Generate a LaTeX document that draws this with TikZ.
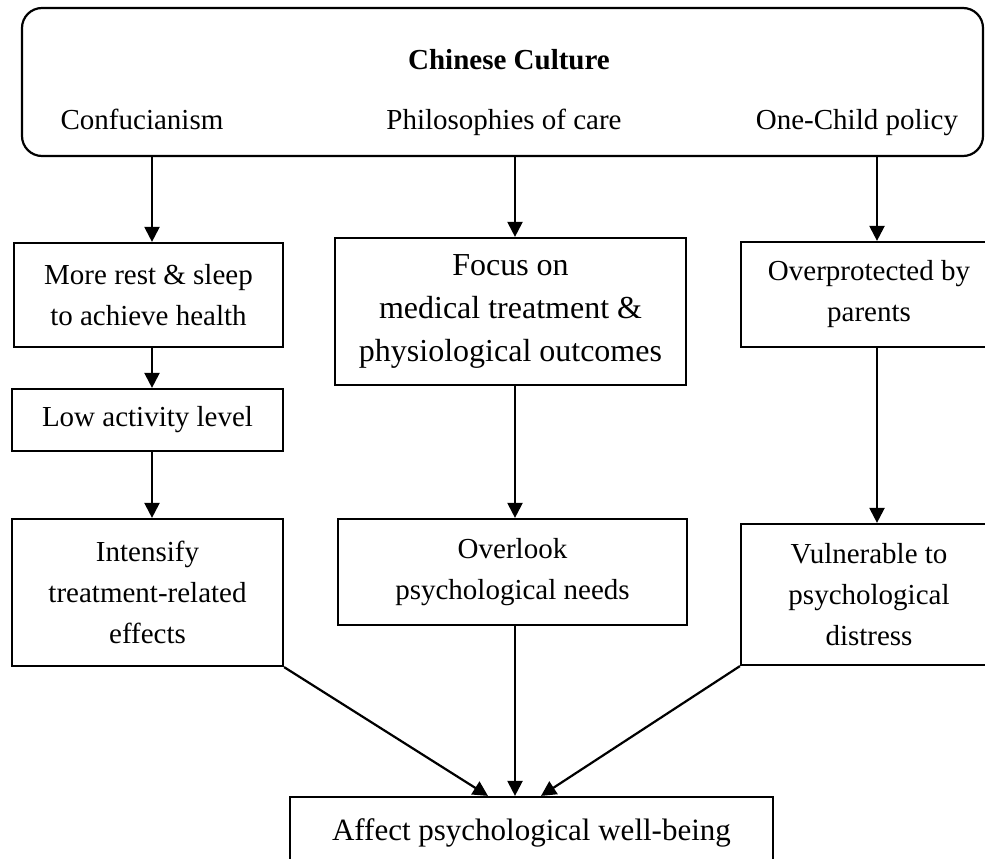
\documentclass[tikz,border=0pt]{standalone}
\usepackage{fontspec}
\setmainfont{Liberation Serif}
\usetikzlibrary{arrows.meta}
\begin{document}
\begin{tikzpicture}[x=1pt,y=-1pt,
  every node/.style={font=\fontsize{29}{41}\selectfont, inner sep=0pt},
  box/.style={draw, line width=2.2pt, align=center, rectangle},
  lbl/.style={align=center, anchor=base},
  arr/.style={line width=2.2pt, -{Triangle[length=15pt,width=15pt]}}]
\useasboundingbox (0,0) rectangle (985,859);
% top rounded box
\node[draw, line width=2.2pt, rounded corners=20pt, minimum width=961pt, minimum height=148pt] (top) at (502.5,82) {};
\node[lbl, font=\fontsize{29}{41}\selectfont\bfseries] (title) at (509,70) {Chinese Culture};
\node[lbl] (conf) at (142,129) {Confucianism};
\node[lbl] (phil) at (504,129) {Philosophies of care};
\node[lbl] (one) at (857,129) {One-Child policy};
% column x positions
\coordinate (xl) at (152,0);
\coordinate (xm) at (515,0);
\coordinate (xr) at (877,0);
\coordinate (xa) at (488,0);
\coordinate (xb) at (541,0);
% left column
\node[box, minimum width=269pt, minimum height=104pt] (rest) at (148.5,295) {More rest \& sleep\\to achieve health};
\node[box, minimum width=271pt, minimum height=62pt] (low) at (147.5,420) {Low activity level};
\node[box, minimum width=271pt, minimum height=147pt] (inten) at (147.5,592.5) {Intensify\\treatment-related\\effects};
% middle column
\node[box, minimum width=351pt, minimum height=147pt, font=\fontsize{32}{43}\selectfont] (focus) at (510.5,311.5) {Focus on\\medical treatment \&\\physiological outcomes};
\node[box, minimum width=349pt, minimum height=106pt] (over) at (512.5,572) {Overlook\\psychological needs};
% right column
\node[box, minimum width=256pt, minimum height=105pt] (prot) at (869,294.5) {Overprotected by\\parents};
\node[box, minimum width=256pt, minimum height=141pt] (vuln) at (869,594.5) {Vulnerable to\\psychological\\distress};
% bottom
\node[box, minimum width=483pt, minimum height=72pt, font=\fontsize{31}{41}\selectfont] (aff) at (531.5,833) {Affect psychological well-being};
% arrows
\draw[arr] (top.south -| xl) -- (rest.north -| xl);
\draw[arr] (top.south -| xm) -- (focus.north -| xm);
\draw[arr] (top.south -| xr) -- (prot.north -| xr);
\draw[arr] (rest.south -| xl) -- (low.north -| xl);
\draw[arr] (low.south -| xl) -- (inten.north -| xl);
\draw[arr] (focus.south -| xm) -- (over.north -| xm);
\draw[arr] (prot.south -| xr) -- (vuln.north -| xr);
\draw[arr] (over.south -| xm) -- (aff.north -| xm);
\draw[arr] (inten.south east) -- (aff.north -| xa);
\draw[arr] (vuln.south west) -- (aff.north -| xb);
\end{tikzpicture}
\end{document}
